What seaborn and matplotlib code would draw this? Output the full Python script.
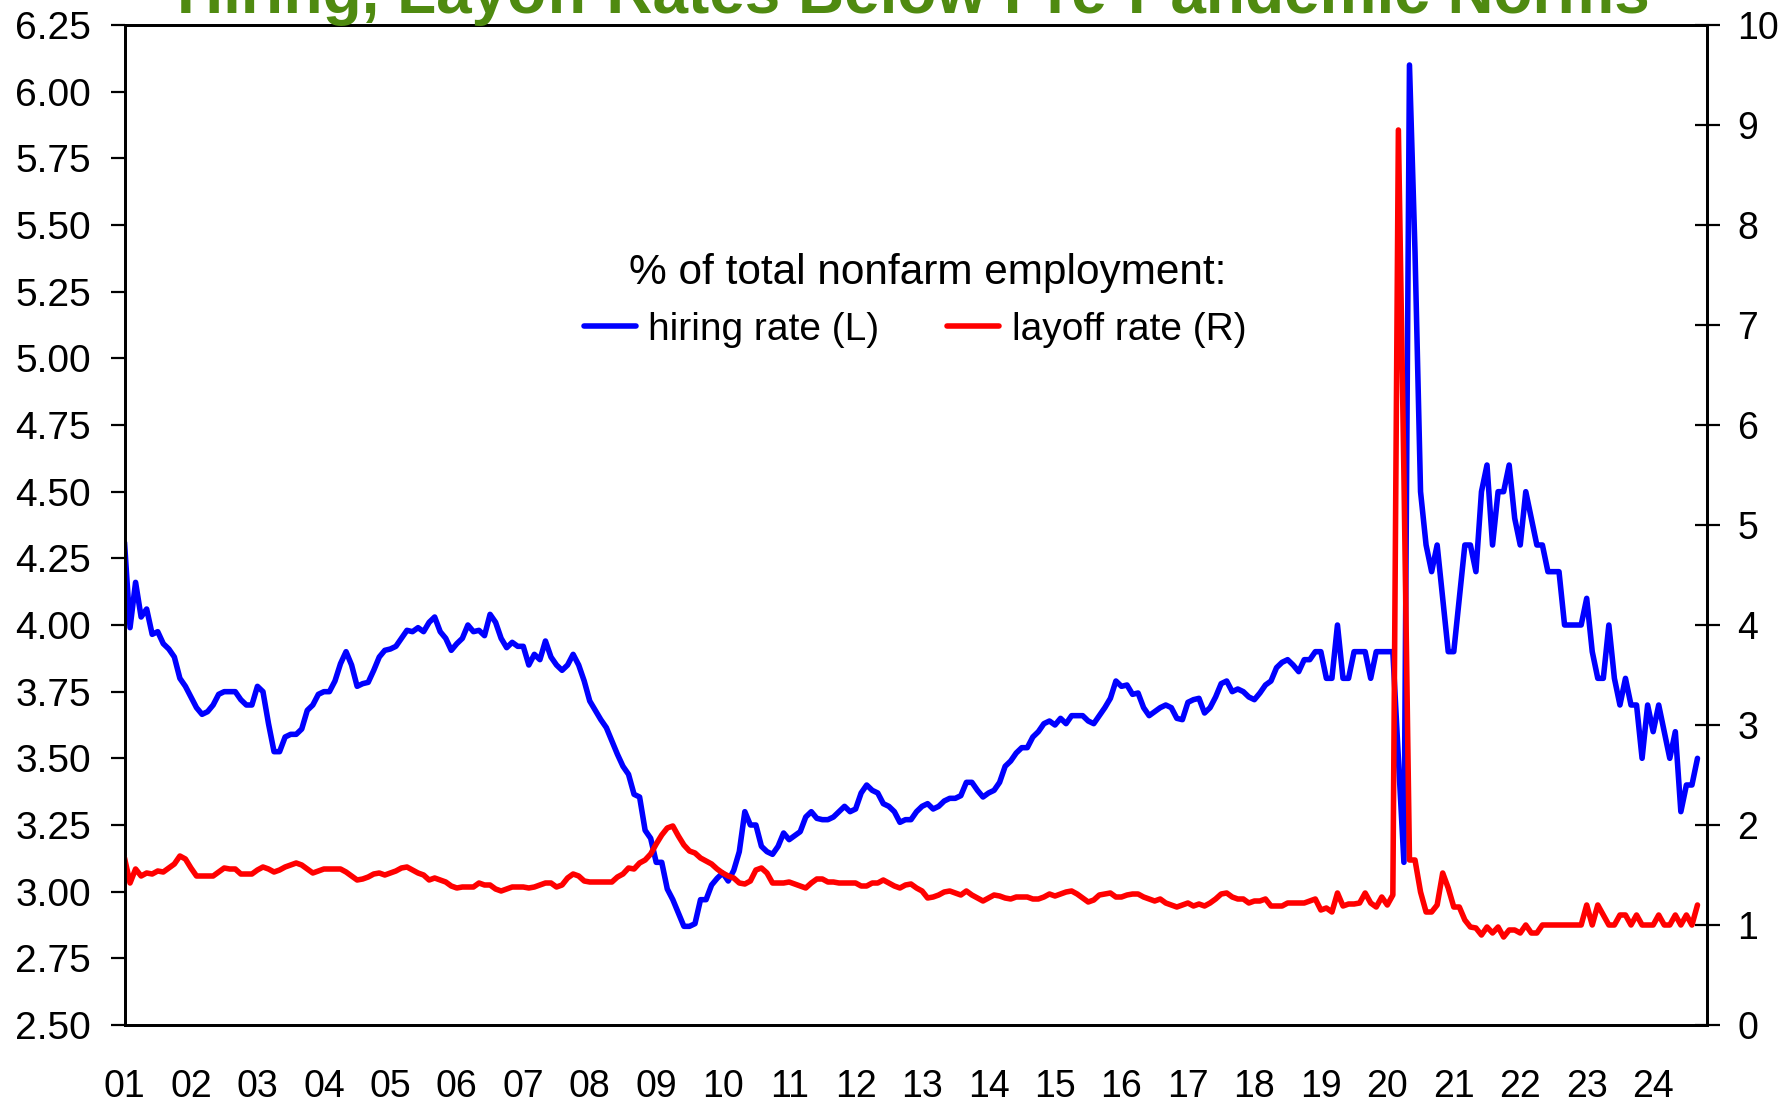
import numpy as np
import pandas as pd
import matplotlib
matplotlib.use("Agg")
import matplotlib.pyplot as plt
import seaborn as sns
from matplotlib.lines import Line2D

# ---------------- data (monthly, Jan 2001 - Sep 2024) ----------------
start_year = 2001

hiring_rate = [
    # 2001-2004
    4.31, 3.99, 4.16, 4.03, 4.06, 3.965, 3.975, 3.93, 3.91, 3.88, 3.80, 3.77,
    3.73, 3.69, 3.665, 3.675, 3.70, 3.74, 3.75, 3.75, 3.75, 3.72, 3.70, 3.70,
    3.77, 3.75, 3.63, 3.525, 3.525, 3.58, 3.59, 3.59, 3.61, 3.68, 3.70, 3.74,
    3.75, 3.75, 3.79, 3.855, 3.90, 3.85, 3.77, 3.78, 3.785, 3.83, 3.88, 3.905,
    # 2005-2008
    3.91, 3.92, 3.95, 3.98, 3.975, 3.99, 3.975, 4.01, 4.03, 3.975, 3.95, 3.905,
    3.93, 3.95, 4.00, 3.975, 3.98, 3.96, 4.04, 4.01, 3.95, 3.915, 3.935, 3.92,
    3.92, 3.85, 3.89, 3.87, 3.94, 3.88, 3.85, 3.83, 3.85, 3.89, 3.85, 3.79,
    3.715, 3.68, 3.645, 3.615, 3.565, 3.515, 3.47, 3.44, 3.365, 3.355, 3.23, 3.20,
    # 2009-2012
    3.11, 3.11, 3.01, 2.97, 2.92, 2.87, 2.87, 2.88, 2.97, 2.97, 3.025, 3.05,
    3.07, 3.04, 3.08, 3.15, 3.30, 3.25, 3.25, 3.17, 3.15, 3.14, 3.17, 3.22,
    3.195, 3.21, 3.225, 3.28, 3.30, 3.275, 3.27, 3.27, 3.28, 3.30, 3.32, 3.30,
    3.31, 3.37, 3.40, 3.38, 3.37, 3.33, 3.32, 3.30, 3.26, 3.27, 3.27, 3.30,
    # 2013-2016
    3.32, 3.33, 3.31, 3.32, 3.34, 3.35, 3.35, 3.36, 3.41, 3.41, 3.38, 3.355,
    3.37, 3.38, 3.41, 3.47, 3.49, 3.52, 3.54, 3.54, 3.58, 3.60, 3.63, 3.64,
    3.625, 3.65, 3.63, 3.66, 3.66, 3.66, 3.64, 3.63, 3.66, 3.69, 3.725, 3.79,
    3.77, 3.775, 3.74, 3.745, 3.69, 3.66, 3.675, 3.69, 3.70, 3.69, 3.65, 3.645,
    # 2017-2020
    3.71, 3.72, 3.725, 3.67, 3.69, 3.73, 3.78, 3.79, 3.75, 3.76, 3.75, 3.73,
    3.72, 3.745, 3.775, 3.79, 3.84, 3.86, 3.87, 3.85, 3.825, 3.87, 3.87, 3.90,
    3.90, 3.80, 3.80, 4.00, 3.80, 3.80, 3.90, 3.90, 3.90, 3.80, 3.90, 3.90,
    3.90, 3.90, 3.50, 3.11, 6.10, 5.40, 4.50, 4.30, 4.20, 4.30, 4.10, 3.90,
    # 2021-2024
    3.90, 4.10, 4.30, 4.30, 4.20, 4.50, 4.60, 4.30, 4.50, 4.50, 4.60, 4.40,
    4.30, 4.50, 4.40, 4.30, 4.30, 4.20, 4.20, 4.20, 4.00, 4.00, 4.00, 4.00,
    4.10, 3.90, 3.80, 3.80, 4.00, 3.80, 3.70, 3.80, 3.70, 3.70, 3.50, 3.70,
    3.60, 3.70, 3.60, 3.50, 3.60, 3.30, 3.40, 3.40, 3.50,
]

layoff_rate = [
    # 2001-2004
    1.67, 1.42, 1.56, 1.49, 1.52, 1.51, 1.54, 1.53, 1.57, 1.61, 1.69, 1.66,
    1.57, 1.49, 1.49, 1.49, 1.49, 1.53, 1.57, 1.56, 1.56, 1.51, 1.51, 1.51,
    1.55, 1.58, 1.56, 1.53, 1.55, 1.58, 1.60, 1.62, 1.60, 1.56, 1.52, 1.54,
    1.56, 1.56, 1.56, 1.56, 1.53, 1.49, 1.45, 1.46, 1.48, 1.51, 1.52, 1.50,
    # 2005-2008
    1.52, 1.54, 1.57, 1.58, 1.55, 1.52, 1.50, 1.45, 1.47, 1.45, 1.43, 1.39,
    1.37, 1.38, 1.38, 1.38, 1.42, 1.40, 1.40, 1.36, 1.34, 1.36, 1.38, 1.38,
    1.38, 1.37, 1.38, 1.40, 1.42, 1.42, 1.38, 1.40, 1.47, 1.51, 1.49, 1.44,
    1.43, 1.43, 1.43, 1.43, 1.43, 1.48, 1.51, 1.57, 1.56, 1.62, 1.65, 1.71,
    # 2009-2012
    1.81, 1.90, 1.97, 1.99, 1.89, 1.80, 1.74, 1.72, 1.67, 1.64, 1.61, 1.56,
    1.52, 1.49, 1.47, 1.42, 1.41, 1.44, 1.55, 1.57, 1.52, 1.42, 1.42, 1.42,
    1.43, 1.41, 1.39, 1.37, 1.42, 1.46, 1.46, 1.43, 1.43, 1.42, 1.42, 1.42,
    1.42, 1.39, 1.39, 1.42, 1.42, 1.45, 1.42, 1.39, 1.37, 1.40, 1.41, 1.37,
    # 2013-2016
    1.34, 1.27, 1.28, 1.30, 1.33, 1.34, 1.32, 1.30, 1.34, 1.30, 1.27, 1.24,
    1.27, 1.30, 1.29, 1.27, 1.26, 1.28, 1.28, 1.28, 1.26, 1.26, 1.28, 1.31,
    1.29, 1.31, 1.33, 1.34, 1.31, 1.27, 1.23, 1.25, 1.30, 1.31, 1.32, 1.28,
    1.28, 1.30, 1.31, 1.31, 1.28, 1.26, 1.24, 1.26, 1.22, 1.20, 1.18, 1.20,
    # 2017-2020
    1.22, 1.19, 1.21, 1.19, 1.22, 1.26, 1.31, 1.32, 1.28, 1.26, 1.26, 1.22,
    1.24, 1.24, 1.26, 1.19, 1.19, 1.19, 1.22, 1.22, 1.22, 1.22, 1.24, 1.26,
    1.15, 1.17, 1.13, 1.32, 1.19, 1.21, 1.21, 1.22, 1.32, 1.22, 1.18, 1.28,
    1.20, 1.30, 8.95, 5.50, 1.65, 1.65, 1.33, 1.13, 1.13, 1.20, 1.52, 1.37,
    # 2021-2024
    1.18, 1.18, 1.05, 0.98, 0.97, 0.90, 0.98, 0.92, 0.98, 0.88, 0.95, 0.95,
    0.92, 1.00, 0.92, 0.92, 1.00, 1.00, 1.00, 1.00, 1.00, 1.00, 1.00, 1.00,
    1.20, 1.00, 1.20, 1.10, 1.00, 1.00, 1.10, 1.10, 1.00, 1.10, 1.00, 1.00,
    1.00, 1.10, 1.00, 1.00, 1.10, 1.00, 1.10, 1.00, 1.20,
]

year_ticks = list(range(2001, 2025))
year_labels = [f"{y % 100:02d}" for y in year_ticks]
left_ticks = [2.50, 2.75, 3.00, 3.25, 3.50, 3.75, 4.00, 4.25, 4.50,
              4.75, 5.00, 5.25, 5.50, 5.75, 6.00, 6.25]
right_ticks = [0, 1, 2, 3, 4, 5, 6, 7, 8, 9, 10]

title_text = "Hiring, Layoff Rates Below Pre-Pandemic Norms"
legend_title = "% of total nonfarm employment:"
series_labels = ["hiring rate (L)", "layoff rate (R)"]

# ---------------- build frame ----------------
months = np.arange(len(hiring_rate))
df = pd.DataFrame({
    "date": start_year + months / 12.0,
    "hiring": hiring_rate,
    "layoff": layoff_rate,
})

sns.set_style("white")
plt.rcParams["font.family"] = ["Liberation Sans", "DejaVu Sans"]
plt.rcParams["text.color"] = "black"
plt.rcParams["axes.labelcolor"] = "black"
plt.rcParams["xtick.color"] = "black"
plt.rcParams["ytick.color"] = "black"

BLUE = "#0000FF"
RED = "#FF0000"
GREEN = "#4F8A10"
LW = 4.0

fig = plt.figure(figsize=(17.91, 11.05), dpi=100)
ax = fig.add_axes([124.5 / 1791, 80 / 1105, (1707 - 124.5) / 1791, 1000 / 1105])
ax2 = ax.twinx()

sns.lineplot(data=df, x="date", y="hiring", ax=ax, color=BLUE, linewidth=LW)
sns.lineplot(data=df, x="date", y="layoff", ax=ax2, color=RED, linewidth=LW)

ax.set_xlim(2001, 2024.81)
ax.set_ylim(2.5, 6.25)
ax2.set_ylim(0, 10)

ax.set_xticks(year_ticks)
ax.set_xticklabels(year_labels)
ax.set_yticks(left_ticks)
ax.set_yticklabels([f"{v:.2f}" for v in left_ticks])
ax2.set_yticks(right_ticks)
ax2.set_yticklabels([str(v) for v in right_ticks])

ax.set_xlabel("")
ax.set_ylabel("")
ax2.set_ylabel("")

ax.tick_params(axis="y", direction="out", length=10, width=1.6, pad=14,
               labelsize=28, colors="black")
ax.tick_params(axis="x", direction="out", length=11, width=1.6, pad=21,
               labelsize=27, colors="black")
ax2.tick_params(axis="y", direction="inout", length=18, width=1.6, pad=13,
                labelsize=27, colors="black")

for a in (ax, ax2):
    for s in a.spines.values():
        s.set_visible(True)
        s.set_color("black")
        s.set_linewidth(2.0)

handles = [Line2D([0], [0], color=BLUE, lw=LW),
           Line2D([0], [0], color=RED, lw=LW)]
leg = ax2.legend(handles, series_labels, ncol=2,
                 frameon=False, loc="center", bbox_to_anchor=(0.4995, 0.695),
                 fontsize=28, handlelength=1.35,
                 handletextpad=0.32, columnspacing=1.73, labelcolor="black")

ax2.text(0.5074, 0.752, legend_title, transform=ax2.transAxes,
         ha="center", va="center", fontsize=30.5, color="black")

fig.text(0.510, 1 - 13 / 1105, title_text, ha="center", va="baseline",
         fontsize=46, fontweight="bold", color=GREEN)

fig.savefig("out.png", dpi=100)
